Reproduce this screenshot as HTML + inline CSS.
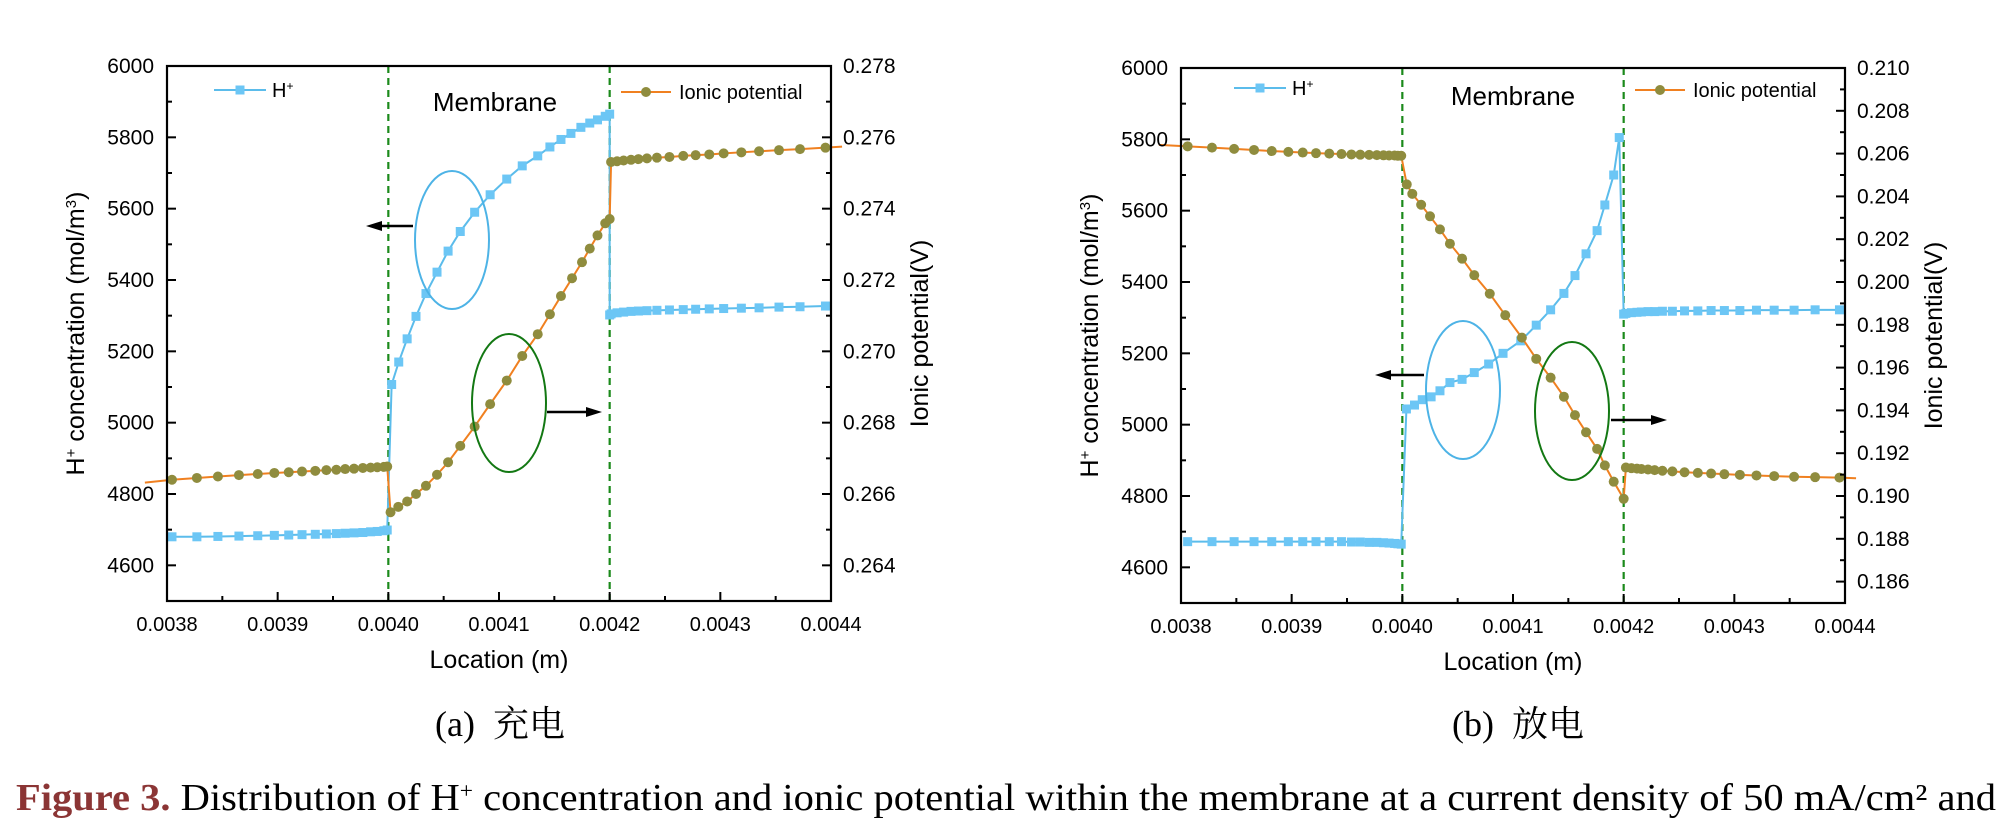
<!DOCTYPE html>
<html><head><meta charset="utf-8">
<style>
html,body{margin:0;padding:0;background:#fff;}
svg{display:block;}
</style></head>
<body>
<svg id="fig" width="1999" height="828" viewBox="0 0 1999 828" xmlns="http://www.w3.org/2000/svg" font-family="'Liberation Sans', Arial, sans-serif">
  <g id="chartA"></g>
  <g id="chartB"></g>
  <text x="500" y="736" text-anchor="middle" font-family="'Liberation Serif','Noto Serif CJK SC',serif" font-size="36" xml:space="preserve">(a)  充电</text>
  <text x="1518" y="736" text-anchor="middle" font-family="'Liberation Serif','Noto Serif CJK SC',serif" font-size="36" xml:space="preserve">(b)  放电</text>
  <text x="16" y="810" font-family="'Liberation Serif','Times New Roman',serif" font-size="38" textLength="1980" lengthAdjust="spacingAndGlyphs"><tspan fill="#8B3535" font-weight="bold">Figure 3.</tspan> Distribution of H<tspan baseline-shift="super" font-size="22">+</tspan> concentration and ionic potential within the membrane at a current density of 50 mA/cm² and</text>
</svg>
<script>
// ---------- data: chart (a) charge ----------
const xTicks = ["0.0038","0.0039","0.0040","0.0041","0.0042","0.0043","0.0044"];
const leftTicks = ["4600","4800","5000","5200","5400","5600","5800","6000"];
const rightTicksA = ["0.264","0.266","0.268","0.270","0.272","0.274","0.276","0.278"];
const rightTicksB = ["0.186","0.188","0.190","0.192","0.194","0.196","0.198","0.200","0.202","0.204","0.206","0.208","0.210"];

const aHx = [0.0038045,0.003827,0.003846,0.003865,0.003882,0.003897,0.00391,0.003922,0.003934,0.003944,0.003953,0.003961,0.003969,0.003977,0.003984,0.00399,0.003996,0.003999,
 0.004003,0.0040094,0.004017,0.004025,0.004034,0.004044,0.004054,0.004065,0.004078,0.004092,0.004107,0.004121,0.004135,0.004146,0.004156,0.004165,0.004174,0.004182,0.004189,0.004196,0.0042,
 0.0042,0.0042013,0.0042067,0.0042126,0.0042193,0.004226,0.0042337,0.0042427,0.004254,0.0042665,0.0042777,0.00429,0.004303,0.004319,0.004335,0.004353,0.004372,0.004395];
const aH = [4680,4680,4681,4682,4683,4684,4685,4686,4687,4688,4689,4690,4691,4692,4694,4695,4697,4699,
 5107,5170,5235,5298,5362,5422,5481,5536,5590,5639,5683,5720,5748,5773,5794,5811,5828,5840,5849,5859,5865,
 5302,5305,5308,5310,5312,5313,5314,5315,5316,5317,5318,5319,5320,5321,5322,5324,5325,5327];
const aPx = [0.00378,0.0038045,0.003827,0.003846,0.003865,0.003882,0.003897,0.00391,0.003922,0.003934,0.003944,0.003953,0.003961,0.003969,0.003977,0.003984,0.00399,0.003996,0.003999,
 0.004002,0.004009,0.004017,0.004025,0.004034,0.004044,0.004054,0.004065,0.004078,0.004092,0.004107,0.004121,0.004135,0.004146,0.004156,0.004166,0.004175,0.004182,0.004189,0.004196,0.0042,
 0.0042013,0.0042067,0.0042126,0.0042193,0.004226,0.0042337,0.0042427,0.004254,0.0042665,0.0042777,0.00429,0.004303,0.004319,0.004335,0.004353,0.004372,0.004395,0.00441];
const aP = [0.26632,0.26640,0.26645,0.26649,0.26653,0.26656,0.26659,0.26661,0.26663,0.26665,0.26667,0.26668,0.26670,0.26671,0.26673,0.26674,0.26675,0.26676,0.26677,
 0.26549,0.26564,0.26579,0.26600,0.26623,0.26654,0.26689,0.26735,0.26789,0.26852,0.26918,0.26987,0.27048,0.27104,0.27155,0.27205,0.27250,0.27288,0.27325,0.27359,0.27371,
 0.27531,0.27533,0.27535,0.27537,0.27539,0.27541,0.27543,0.27545,0.27548,0.27550,0.27552,0.27555,0.27558,0.27561,0.27564,0.27567,0.27571,0.27574];

// ---------- data: chart (b) discharge ----------
const bHx = [0.003806,0.003828,0.003848,0.003866,0.003882,0.003897,0.00391,0.003922,0.003934,0.003945,0.003954,0.003962,0.00397,0.003977,0.003983,0.003988,0.003993,0.003996,0.003999,
 0.0040037,0.004011,0.004018,0.004026,0.004034,0.004043,0.004054,0.004065,0.004078,0.004091,0.004107,0.004121,0.004134,0.004146,0.004156,0.004166,0.004176,0.004183,0.004191,0.004196,
 0.0042,0.004202,0.004207,0.004212,0.004216,0.004222,0.004228,0.004235,0.004244,0.004255,0.004267,0.004279,0.004291,0.004305,0.00432,0.004336,0.004354,0.004373,0.004395];
const bH = [4672,4672,4672,4672,4672,4672,4672,4672,4672,4672,4671,4671,4670,4670,4669,4668,4667,4666,4665,
 5044,5055,5070,5078,5095,5118,5127,5146,5170,5200,5235,5279,5322,5368,5418,5479,5544,5616,5700,5805,
 5310,5312,5314,5315,5316,5317,5317,5318,5318,5319,5319,5320,5320,5320,5321,5321,5321,5322,5322];
const bPx = [0.00378,0.003806,0.003828,0.003848,0.003866,0.003882,0.003897,0.00391,0.003922,0.003934,0.003945,0.003954,0.003962,0.00397,0.003977,0.003983,0.003988,0.003993,0.003996,0.003999,
 0.004004,0.004009,0.004017,0.004025,0.004034,0.004043,0.004054,0.004065,0.004079,0.004093,0.004108,0.004121,0.004134,0.004146,0.004156,0.004166,0.004176,0.004183,0.004191,0.0042,
 0.004202,0.004207,0.004212,0.004216,0.004222,0.004228,0.004235,0.004244,0.004255,0.004267,0.004279,0.004291,0.004305,0.00432,0.004336,0.004354,0.004373,0.004395,0.00441];
const bP = [0.20641,0.20634,0.20628,0.20622,0.20617,0.20612,0.20608,0.20605,0.20602,0.20600,0.20598,0.20596,0.20595,0.20594,0.20593,0.20592,0.20591,0.20591,0.20590,0.20590,
 0.20456,0.20412,0.20361,0.20307,0.20246,0.20179,0.20109,0.20032,0.19945,0.19845,0.19740,0.19641,0.19553,0.19464,0.19378,0.19298,0.19220,0.19143,0.19067,0.18987,
 0.19133,0.19130,0.19128,0.19126,0.19124,0.19121,0.19118,0.19115,0.19111,0.19108,0.19105,0.19102,0.19099,0.19096,0.19093,0.19090,0.19088,0.19086,0.19083];

const NS = "http://www.w3.org/2000/svg";
function mk(parent, tag, attrs, txt){
  const e = document.createElementNS(NS, tag);
  for (const k in attrs) e.setAttribute(k, attrs[k]);
  if (txt !== undefined) e.textContent = txt;
  parent.appendChild(e);
  return e;
}

function drawChart(g, cfg){
  const L=cfg.L, R=cfg.R, T=cfg.T, B=cfg.B;
  const X = v => L + (v-0.0038)/(0.0006)*(R-L);
  const Y = v => B - (v-4500)/1500*(B-T);
  const Y2 = v => B - (v-cfg.rmin)/(cfg.rmax-cfg.rmin)*(B-T);

  const cid = "clip"+cfg.id;
  const defs = mk(g,"defs",{});
  const cp = mk(defs,"clipPath",{id:cid});
  mk(cp,"rect",{x:L-30,y:T,width:R-L+60,height:B-T});

  [0.0040,0.0042].forEach(v=>{
    const d = mk(g,"line",{x1:X(v),x2:X(v),y1:T,y2:B,stroke:"#1b8a1b","stroke-width":2.2,"stroke-dasharray":"7,5"});
    
    
  });

  const hl = mk(g,"polyline",{points:cfg.hx.map((x,i)=>X(x)+","+Y(cfg.h[i])).join(" "),fill:"none",stroke:"#5BBCEB","stroke-width":2,"clip-path":"url(#"+cid+")"});
  
  
  cfg.hx.forEach((x,i)=>{
    const m = mk(g,"rect",{x:X(x)-4.5,y:Y(cfg.h[i])-4.5,width:9,height:9,fill:"#6CC6F5"});
    
    
  });
  const pl = mk(g,"polyline",{points:cfg.px.map((x,i)=>X(x)+","+Y2(cfg.p[i])).join(" "),fill:"none",stroke:"#F08020","stroke-width":2});
  
  
  cfg.px.forEach((x,i)=>{
    if (x<0.0038 || x>0.0044) return;
    const m = mk(g,"circle",{cx:X(x),cy:Y2(cfg.p[i]),r:5,fill:"#8F8C3E"});
    
    
  });

  const fr = mk(g,"rect",{x:L,y:T,width:R-L,height:B-T,fill:"none",stroke:"#000","stroke-width":2.2});
  
  

  xTicks.forEach((t,i)=>{
    const v = parseFloat(t), x = X(v);
    mk(g,"line",{x1:x,x2:x,y1:B,y2:B-9,stroke:"#000","stroke-width":2});
    if (i<xTicks.length-1){ const xm = X(v+0.00005); mk(g,"line",{x1:xm,x2:xm,y1:B,y2:B-5,stroke:"#000","stroke-width":2}); }
    const lb = mk(g,"text",{x:x,y:B+30,"text-anchor":"middle","font-size":20},t);
    
    
  });
  leftTicks.forEach(t=>{
    const v=parseFloat(t), y=Y(v);
    mk(g,"line",{x1:L,x2:L+9,y1:y,y2:y,stroke:"#000","stroke-width":2});
    const ym=Y(v-100); mk(g,"line",{x1:L,x2:L+5,y1:ym,y2:ym,stroke:"#000","stroke-width":2});
    const lb = mk(g,"text",{x:L-13,y:y+7,"text-anchor":"end","font-size":21},t);
    
    
  });
  cfg.rt.forEach(t=>{
    const v=parseFloat(t), y=Y2(v);
    mk(g,"line",{x1:R,x2:R-9,y1:y,y2:y,stroke:"#000","stroke-width":2});
    const ym=Y2(v-0.001); if (ym<B) mk(g,"line",{x1:R,x2:R-5,y1:ym,y2:ym,stroke:"#000","stroke-width":2});
    const lb = mk(g,"text",{x:R+12,y:y+7,"font-size":21},t);
    
    
  });

  const xt = mk(g,"text",{x:(L+R)/2,y:B+67,"text-anchor":"middle","font-size":25},"Location (m)");
  
  
  const yt = mk(g,"text",{transform:"translate("+cfg.ytx+","+(T+B)/2+") rotate(-90)","text-anchor":"middle","font-size":25});
  
  
  yt.innerHTML = 'H<tspan baseline-shift="super" font-size="15">+</tspan> concentration (mol/m<tspan baseline-shift="super" font-size="15">3</tspan>)';
  const yt2 = mk(g,"text",{transform:"translate("+cfg.yt2x+","+(T+B)/2+") rotate(-90)","text-anchor":"middle","font-size":25},"Ionic potential(V)");
  
  

  const lg1 = mk(g,"g",{});
  
  
  mk(lg1,"line",{x1:cfg.lg1,x2:cfg.lg1+52,y1:cfg.lgy,y2:cfg.lgy,stroke:"#5BBCEB","stroke-width":2});
  mk(lg1,"rect",{x:cfg.lg1+21.5,y:cfg.lgy-4.5,width:9,height:9,fill:"#6CC6F5"});
  const lt1 = mk(lg1,"text",{x:cfg.lg1+58,y:cfg.lgy+7,"font-size":20});
  lt1.innerHTML='H<tspan baseline-shift="super" font-size="12">+</tspan>';
  const lg2 = mk(g,"g",{});
  
  
  mk(lg2,"line",{x1:cfg.lg2,x2:cfg.lg2+50,y1:cfg.lgy+2,y2:cfg.lgy+2,stroke:"#F08020","stroke-width":2});
  mk(lg2,"circle",{cx:cfg.lg2+25,cy:cfg.lgy+2,r:5,fill:"#8F8C3E"});
  mk(lg2,"text",{x:cfg.lg2+58,y:cfg.lgy+9,"font-size":20},"Ionic potential");
  const mb = mk(g,"text",{x:cfg.mx,y:cfg.my,"text-anchor":"middle","font-size":26},"Membrane");
  
  

  const e1 = mk(g,"ellipse",{cx:cfg.e1[0],cy:cfg.e1[1],rx:37,ry:69,fill:"none",stroke:"#4DB3E6","stroke-width":2});
  
  
  const e2 = mk(g,"ellipse",{cx:cfg.e2[0],cy:cfg.e2[1],rx:37,ry:69,fill:"none",stroke:"#137813","stroke-width":2});
  
  
  cfg.arrows.forEach(a=>{
    const ag = mk(g,"g",{});
    
    
    const dir = Math.sign(a[2]-a[0]);
    mk(ag,"line",{x1:a[0],x2:a[2]-dir*10,y1:a[1],y2:a[1],stroke:"#000","stroke-width":2.5});
    mk(ag,"polygon",{points:a[2]+","+a[1]+" "+(a[2]-dir*16)+","+(a[1]-5)+" "+(a[2]-dir*16)+","+(a[1]+5),fill:"#000"});
  });
}

drawChart(document.getElementById("chartA"),{
  id:"A",L:167,R:831,T:66,B:601,rmin:0.263,rmax:0.278,rt:rightTicksA,
  hx:aHx,h:aH,px:aPx,p:aP,ytx:84,yt2x:928,lg1:214,lg2:621,lgy:90,mx:495,my:111,
  e1:[452,240],e2:[509,403],arrows:[[413,226,366,226],[547,412,602,412]]
});
drawChart(document.getElementById("chartB"),{
  id:"B",L:1181,R:1845,T:68,B:603,rmin:0.185,rmax:0.210,rt:rightTicksB,
  hx:bHx,h:bH,px:bPx,p:bP,ytx:1098,yt2x:1942,lg1:1234,lg2:1635,lgy:88,mx:1513,my:105,
  e1:[1463,390],e2:[1572,411],arrows:[[1424,375,1375,375],[1611,420,1667,420]]
});
</script>
</body></html>
